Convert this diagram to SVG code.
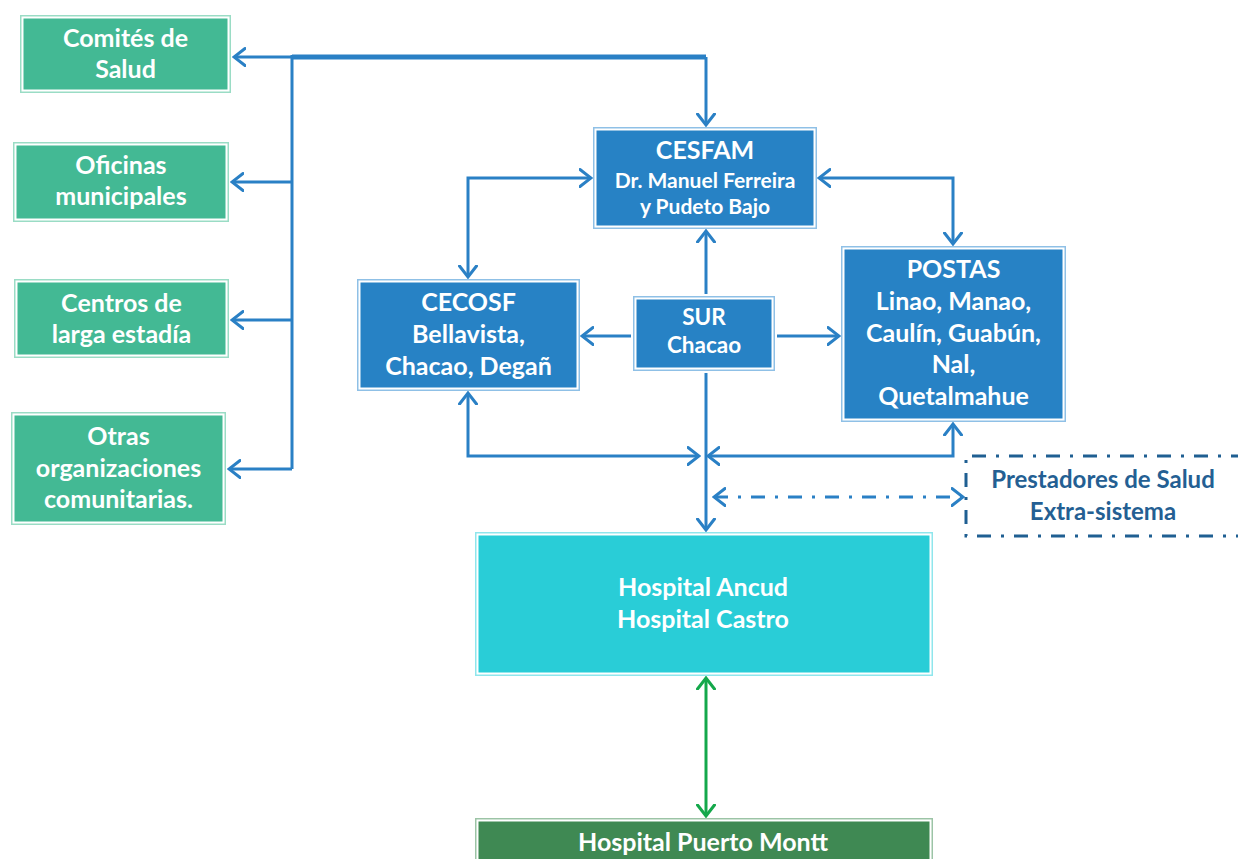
<svg xmlns="http://www.w3.org/2000/svg" width="1238" height="859" viewBox="0 0 1238 859">
<defs>
<style>
text{font-family:Lato,"Open Sans","Liberation Sans",sans-serif;font-weight:700;fill:#fff;text-anchor:middle}
.c{fill:none;stroke:#2A80C5;stroke-width:3;stroke-linejoin:miter}
.thick{stroke-width:5}
.w{fill:#fff}
.gB{fill:#9ADCC5}.gF{fill:#43B994}
.bB{fill:#8FC0E6}.bF{fill:#2782C5}
.cB{fill:#8FE6EC}.cF{fill:#29CDD7}
.dB{fill:#9CC4A6}.dF{fill:#3F8953}
.t22{font-size:25px}.t20{font-size:22.5px}.t18{font-size:21px}.tp{font-size:24px;fill:#245F93}
</style>
<marker id="a" viewBox="0 0 14 20" refX="12" refY="10" markerWidth="14" markerHeight="20" markerUnits="userSpaceOnUse" orient="auto-start-reverse">
<path d="M1,1.5 L12,10 L1,18.5" fill="none" stroke="#2A80C5" stroke-width="3" stroke-linecap="round"/>
</marker>
<marker id="g" viewBox="0 0 14 20" refX="12" refY="10" markerWidth="14" markerHeight="20" markerUnits="userSpaceOnUse" orient="auto-start-reverse">
<path d="M1,1.5 L12,10 L1,18.5" fill="none" stroke="#14A84B" stroke-width="3" stroke-linecap="round"/>
</marker>
</defs>
<rect width="1238" height="859" fill="#fff"/>

<g id="connectors">
<path class="c thick" d="M292,57 L706,57"/>
<path class="c" d="M292,57 L234,57" marker-end="url(#a)"/>
<path class="c" d="M706,57 L706,125" marker-end="url(#a)"/>
<path class="c" d="M292,55 L292,469"/>
<path class="c" d="M292,182 L232,182" marker-end="url(#a)"/>
<path class="c" d="M292,320 L232,320" marker-end="url(#a)"/>
<path class="c" d="M292,469 L229,469" marker-end="url(#a)"/>
<path class="c" d="M591,178 L468,178 L468,277" marker-start="url(#a)" marker-end="url(#a)"/>
<path class="c" d="M819,178 L953,178 L953,244" marker-start="url(#a)" marker-end="url(#a)"/>
<path class="c" d="M706,294 L706,231" marker-end="url(#a)"/>
<path class="c" d="M631,336 L582,336" marker-end="url(#a)"/>
<path class="c" d="M777,336 L839,336" marker-end="url(#a)"/>
<path class="c" d="M706,373 L706,530" marker-end="url(#a)"/>
<path class="c" d="M468,393 L468,456 L699,456" marker-start="url(#a)" marker-end="url(#a)"/>
<path class="c" d="M708,456 L953,456 L953,424" marker-start="url(#a)" marker-end="url(#a)"/>
<path class="c" d="M714,497 L963,497" stroke-dasharray="14,10,3,10" marker-start="url(#a)" marker-end="url(#a)"/>
<path d="M706,678 L706,816" fill="none" stroke="#14A84B" stroke-width="3" marker-start="url(#g)" marker-end="url(#g)"/>
</g>

<g id="comites">
<rect class="gB" x="20" y="15" width="211" height="78"/><rect class="w" x="21.5" y="16.5" width="208" height="75"/><rect class="gF" x="23.5" y="18.5" width="204" height="71"/>
<text class="t22" x="125.5" y="47">Comités de</text><text class="t22" x="125.5" y="78">Salud</text>
</g>
<g id="oficinas">
<rect class="gB" x="13" y="142" width="216" height="80"/><rect class="w" x="14.5" y="143.5" width="213" height="77"/><rect class="gF" x="16.5" y="145.5" width="209" height="73"/>
<text class="t22" x="121" y="174">Oficinas</text><text class="t22" x="121" y="205">municipales</text>
</g>
<g id="centros">
<rect class="gB" x="14" y="279" width="215" height="79"/><rect class="w" x="15.5" y="280.5" width="212" height="76"/><rect class="gF" x="17.5" y="282.5" width="208" height="72"/>
<text class="t22" x="121.5" y="312">Centros de</text><text class="t22" x="121.5" y="343">larga estadía</text>
</g>
<g id="otras">
<rect class="gB" x="11" y="412" width="215" height="113"/><rect class="w" x="12.5" y="413.5" width="212" height="110"/><rect class="gF" x="14.5" y="415.5" width="208" height="106"/>
<text class="t22" x="118.5" y="445">Otras</text><text class="t22" x="118.5" y="477">organizaciones</text><text class="t22" x="118.5" y="508">comunitarias.</text>
</g>

<g id="cesfam">
<rect class="bB" x="593" y="127" width="224" height="102"/><rect class="w" x="594.5" y="128.5" width="221" height="99"/><rect class="bF" x="596.5" y="130.5" width="217" height="95"/>
<text class="t22" x="705" y="159">CESFAM</text><text class="t18" x="705" y="188">Dr. Manuel Ferreira</text><text class="t18" x="705" y="214">y Pudeto Bajo</text>
</g>
<g id="cecosf">
<rect class="bB" x="357" y="279" width="223" height="112"/><rect class="w" x="358.5" y="280.5" width="220" height="109"/><rect class="bF" x="360.5" y="282.5" width="216" height="105"/>
<text class="t22" x="468.5" y="311">CECOSF</text><text class="t22" x="468.5" y="343">Bellavista,</text><text class="t22" x="468.5" y="375">Chacao, Degañ</text>
</g>
<g id="sur">
<rect class="bB" x="633" y="296" width="142" height="75"/><rect class="w" x="634.5" y="297.5" width="139" height="72"/><rect class="bF" x="636.5" y="299.5" width="135" height="68"/>
<text class="t20" x="704" y="325">SUR</text><text class="t20" x="704" y="353">Chacao</text>
</g>
<g id="postas">
<rect class="bB" x="841" y="246" width="225" height="176"/><rect class="w" x="842.5" y="247.5" width="222" height="173"/><rect class="bF" x="844.5" y="249.5" width="218" height="169"/>
<text class="t22" x="953.5" y="278">POSTAS</text><text class="t22" x="953.5" y="310">Linao, Manao,</text><text class="t22" x="953.5" y="342">Caulín, Guabún,</text><text class="t22" x="953.5" y="373">Nal,</text><text class="t22" x="953.5" y="405">Quetalmahue</text>
</g>
<g id="prestadores">
<path d="M1245,456 L966,456 L966,536 L1245,536" fill="none" stroke="#1F5F92" stroke-width="3" stroke-dasharray="14,10,3,10"/>
<text class="tp" x="1103" y="488">Prestadores de Salud</text><text class="tp" x="1103" y="520">Extra-sistema</text>
</g>
<g id="hospital">
<rect class="cB" x="475" y="532" width="458" height="144"/><rect class="w" x="476.5" y="533.5" width="455" height="141"/><rect class="cF" x="478.5" y="535.5" width="451" height="137"/>
<text class="t22" x="703" y="596">Hospital Ancud</text><text class="t22" x="703" y="628">Hospital Castro</text>
</g>
<g id="puertomontt">
<rect class="dB" x="475" y="818" width="458" height="60"/><rect class="w" x="476.5" y="819.5" width="455" height="57"/><rect class="dF" x="478.5" y="821.5" width="451" height="53"/>
<text class="t22" x="703" y="851">Hospital Puerto Montt</text>
</g>
</svg>
